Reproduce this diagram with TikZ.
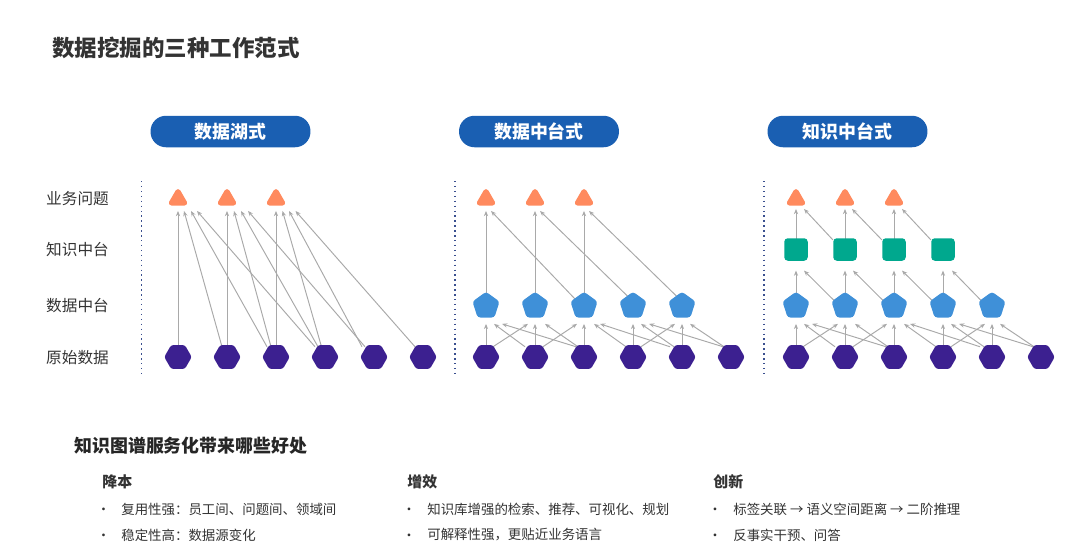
\documentclass[tikz,border=0pt]{standalone}
\usepackage{fontspec}
\setmainfont{Noto Sans CJK SC}
\usetikzlibrary{shapes.geometric,calc,backgrounds,arrows.meta}

\definecolor{problemc}{HTML}{FF8A5E}
\definecolor{rawc}{HTML}{3C2090}
\definecolor{datac}{HTML}{3F90D8}
\definecolor{knowc}{HTML}{00A88E}
\definecolor{pillc}{HTML}{1A5FB2}
\definecolor{linkc}{HTML}{A9A9A9}
\definecolor{textc}{HTML}{333333}
\definecolor{dotc}{HTML}{3A4F8F}

\tikzset{
  rawnode/.style={regular polygon, regular polygon sides=6, fill=rawc, minimum size=0.55cm, inner sep=0pt, rounded corners=1.3pt},
  datanode/.style={regular polygon, regular polygon sides=5, fill=datac, minimum size=0.57cm, inner sep=0pt, rounded corners=1.6pt},
  knownode/.style={rectangle, fill=knowc, minimum width=0.47cm, minimum height=0.45cm, inner sep=0pt, rounded corners=2pt},
  problemnode/.style={regular polygon, regular polygon sides=3, draw=problemc, fill=problemc, line width=3pt, line join=round, minimum size=0.3cm, inner sep=0pt, outer sep=0pt},
  pill/.style={rectangle, fill=pillc, rounded corners=8.8pt, minimum width=3.2cm, minimum height=0.63cm, inner sep=0pt, text=white, font=\fontsize{10.2}{12}\selectfont\bfseries},
  rowlabel/.style={text=textc, inner sep=0pt, font=\fontsize{8.9}{11}\selectfont},
  headtext/.style={anchor=west, text=textc, inner sep=0pt, font=\fontsize{8.5}{11}\selectfont\bfseries},
  bodytext/.style={anchor=west, text=textc, inner sep=0pt, font=\fontsize{7.65}{10}\selectfont},
  bulletdot/.style={text=textc, inner sep=0pt, font=\fontsize{7.65}{10}\selectfont},
  dotline/.style={dotc, line width=0.8pt, dash pattern=on 0.8pt off 2pt},
  linkarrow/.style={-{Stealth[length=3pt,width=2.4pt]}, linkc, line width=0.55pt}
}

% optional argument: gap below the target node, in picture units
\newcommand{\linkup}[5][6]{\draw[linkarrow] ($(#2)+(#3,2)$) -- ($(#4)+(#5,#1)$);}

\begin{document}
\begin{tikzpicture}[x=0.02cm, y=-0.02cm]
\useasboundingbox (0,0) rectangle (1080,552);

% titles
\node (title) [anchor=west, text=textc, inner sep=0pt, font=\fontsize{12.8}{15}\selectfont\bfseries] at (52,48) {数据挖掘的三种工作范式};
\node (pilla) [pill] at (230.5,131.5) {数据湖式};
\node (pillb) [pill] at (539,131.5) {数据中台式};
\node (pillc) [pill] at (847.5,131.5) {知识中台式};

% row labels
\node (rowt) [rowlabel] at (77.5,199) {业务问题};
\node (rows) [rowlabel] at (77.5,250) {知识中台};
\node (rowp) [rowlabel] at (77.5,305.5) {数据中台};
\node (rowh) [rowlabel] at (77.5,357.5) {原始数据};

% dotted separators
\draw[dotline] (141.5,181) -- (141.5,373);
\draw[dotline] (455,181) -- (455,373);
\draw[dotline] (764,181) -- (764,373);

% nodes of the three panels
\foreach \i/\x in {1/178,2/227,3/276,4/325,5/374,6/423}
  \node (ah\i) [rawnode] at (\x,357) {};
\foreach \i/\x in {1/178,2/227,3/276}
  \node (at\i) [problemnode] at (\x,199.2) {};

\foreach \i/\x in {1/486,2/535,3/584,4/633,5/682,6/731}
  \node (bh\i) [rawnode] at (\x,357) {};
\foreach \i/\x in {1/486,2/535,3/584,4/633,5/682}
  \node (bp\i) [datanode] at (\x,306) {};
\foreach \i/\x in {1/486,2/535,3/584}
  \node (bt\i) [problemnode] at (\x,199.2) {};

\foreach \i/\x in {1/796,2/845,3/894,4/943,5/992,6/1041}
  \node (ch\i) [rawnode] at (\x,357) {};
\foreach \i/\x in {1/796,2/845,3/894,4/943,5/992}
  \node (cp\i) [datanode] at (\x,306) {};
\foreach \i/\x in {1/796,2/845,3/894,4/943}
  \node (cs\i) [knownode] at (\x,249.5) {};
\foreach \i/\x in {1/796,2/845,3/894}
  \node (ct\i) [problemnode] at (\x,199.2) {};

\begin{scope}[on background layer]
% panel one
\foreach \a/\i/\b/\j in {h1/0/t1/0, h2/-5/t1/6, h3/-9/t1/13, h4/-10/t1/19, h2/0/t2/0, h3/-5/t2/7, h4/-7/t2/14, h5/-9/t2/21, h3/0/t3/0, h4/-3.5/t3/6.5, h5/-12/t3/13, h6/-8/t3/19.5}
  {\linkup[8]{a\a.north}{\i}{a\b.south}{\j}}

% raw data to data layer, same in panels two and three
\foreach \p in {b,c}
  \foreach \a/\i/\b/\j in {h1/0/p1/0, h2/-10/p1/8, h3/-8/p1/16, h1/7/p2/-7, h2/0/p2/0, h3/-6/p2/10, h2/8/p3/-7, h3/0/p3/0, h4/-7/p3/10, h5/-12/p3/16, h4/0/p4/0, h5/-8/p4/8, h6/-8/p4/16, h4/8/p5/-7, h5/0/p5/0, h6/-7/p5/8}
    {\linkup[6]{\p\a.north}{\i}{\p\b.south}{\j}}

% panel two, data layer to problems
\foreach \a/\b/\j in {p1.north/t1/0, p3.135/t1/5, p2.north/t2/0, p4.113/t2/5, p3.north/t3/0, p5.113/t3/5}
  {\linkup[8]{b\a}{0}{b\b.south}{\j}}

% panel three, data layer to knowledge layer
\foreach \a/\b/\j in {p1.north/s1/0, p2.146/s1/8, p2.north/s2/0, p3.146/s2/8, p3.north/s3/0, p4.146/s3/8, p4.north/s4/0, p5.146/s4/9}
  {\linkup[9.5]{c\a}{0}{c\b.south}{\j}}

% panel three, knowledge layer to problems
\foreach \a/\b/\j in {s1.north/t1/0, s2.north west/t1/8, s2.north/t2/0, s3.north west/t2/7, s3.north/t3/0, s4.north west/t3/8}
  {\linkup[6]{c\a}{0}{c\b.south}{\j}}
\end{scope}

% lower text
\node (subtitle) [anchor=west, text=black!85, inner sep=0pt, font=\fontsize{10.2}{12}\selectfont\bfseries] at (74,446) {知识图谱服务化带来哪些好处};

\node (heada) [headtext] at (102,482) {降本};
\node (dota1) [bulletdot] at (103.5,511.5) {•};
\node (texta1) [bodytext] at (121,509) {复用性强：员工间、问题间、领域间};
\node (dota2) [bulletdot] at (103.5,537.5) {•};
\node (texta2) [bodytext] at (121,535) {稳定性高：数据源变化};

\node (headb) [headtext] at (407,482) {增效};
\node (dotb1) [bulletdot] at (409,511.5) {•};
\node (textb1) [bodytext] at (427,509) {知识库增强的检索、推荐、可视化、规划};
\node (dotb2) [bulletdot] at (409,537.5) {•};
\node (textb2) [bodytext] at (427,535) {可解释性强，更贴近业务语言};

\node (headc) [headtext] at (713,482) {创新};
\node (dotc1) [bulletdot] at (715,511.5) {•};
\node (textc1) [bodytext] at (733,509) {标签关联 → 语义空间距离 → 二阶推理};
\node (dotc2) [bulletdot] at (715,537.5) {•};
\node (textc2) [bodytext] at (733,535) {反事实干预、问答};

\end{tikzpicture}
\end{document}
